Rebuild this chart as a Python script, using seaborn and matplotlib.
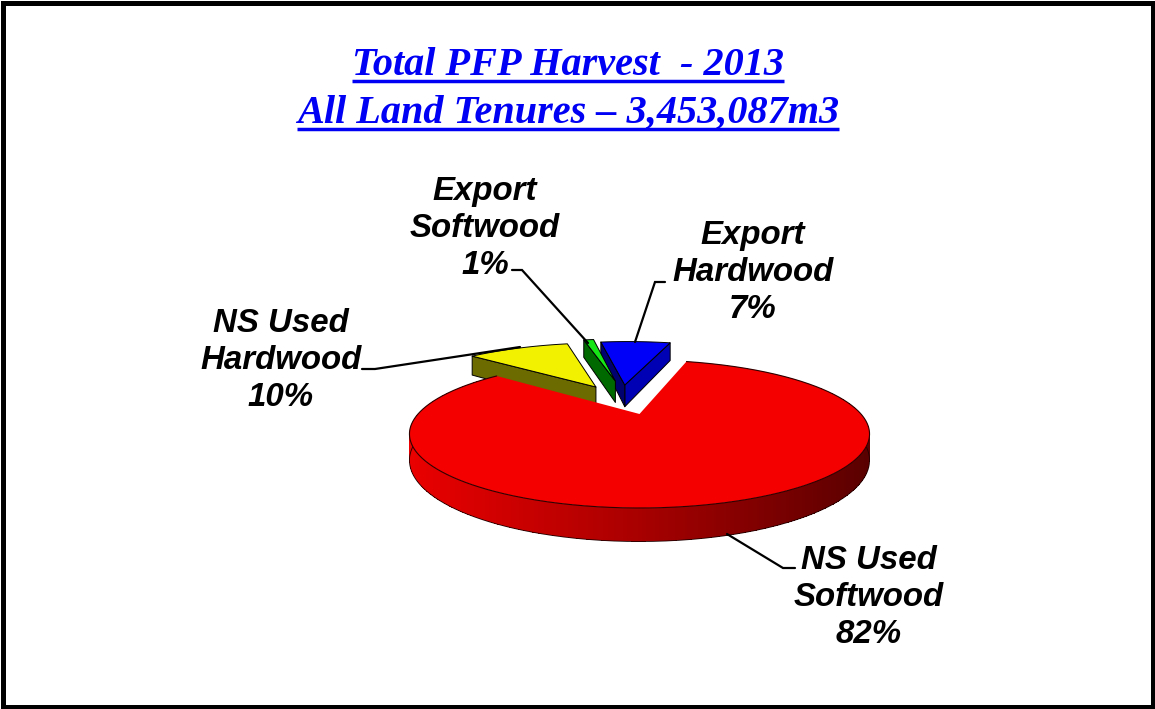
import numpy as np
import matplotlib
matplotlib.use("Agg")
import matplotlib.pyplot as plt
import seaborn as sns
from matplotlib.colors import ListedColormap
from matplotlib.patches import Rectangle

# ---- data ----
categories = ["NS Used\nSoftwood", "NS Used\nHardwood", "Export\nSoftwood", "Export\nHardwood"]
percentages = [82, 10, 1, 7]
title_lines = ["Total PFP Harvest  - 2013", "All Land Tenures \u2013 3,453,087m3"]

# ---- style ----
top_colors = ["#f40000", "#f2f200", "#16e616", "#0000f8"]
start_angle = 74.5
offsets = [(0.0, 0.0), (-0.22, 0.44), (-0.125, 0.55), (-0.075, 0.477)]
CX, CY, A, B, P, DEPTH = 639.5, 414.0, 221.5, 68.6, 0.27, 24.5

sns.set_theme(style="white")
W, H = 1155, 709
fig = plt.figure(figsize=(W / 100, H / 100), dpi=100, facecolor="white")
ax = fig.add_axes([0, 0, 1, 1])
ax.set_xlim(0, W)
ax.set_ylim(H, 0)
ax.axis("off")


def project(u, v, z=0.0):
    """Perspective projection of the unit pie plane to the canvas."""
    u, v = np.asarray(u, float), np.asarray(v, float)
    w = 1 + P * v
    return CX + A * u / w, CY - B * v / w + z * DEPTH / w


def arc(a0, a1, off, z=0.0, n=120):
    t = np.radians(np.linspace(a0, a1, n))
    return project(np.cos(t) + off[0], np.sin(t) + off[1], z)


# wedge angles from the values (clockwise)
fractions = np.array(percentages, float) / sum(percentages)
ends = start_angle - np.cumsum(fractions) * 360
starts = np.r_[start_angle, ends[:-1]]
OUT = dict(edgecolor="black", linewidth=0.7, joinstyle="round")


def side_face(angle, off, color):
    t = np.radians(angle)
    xa, ya = project(off[0], off[1])
    xr, yr = project(np.cos(t) + off[0], np.sin(t) + off[1])
    xa2, ya2 = project(off[0], off[1], 1)
    xr2, yr2 = project(np.cos(t) + off[0], np.sin(t) + off[1], 1)
    ax.fill([xa, xr, xr2, xa2], [ya, yr, yr2, ya2], facecolor=color, **OUT)


def top_face(i):
    x, y = arc(starts[i], ends[i], offsets[i])
    xa, ya = project(*offsets[i])
    ax.fill(np.r_[xa, x], np.r_[ya, y], facecolor=top_colors[i], **OUT)


# exploded slices, far to near
side_face(ends[3], offsets[3], "#0000b4")
side_face(starts[3], offsets[3], "#000070")
top_face(3)
side_face(starts[2], offsets[2], "#006a00")
top_face(2)
side_face(starts[1], offsets[1], "#6b6b00")
top_face(1)

# main slice: rim with shading from left to right, then top
a0, a1 = starts[0], ends[0]
x_top, y_top = arc(a0, a1, offsets[0], 0, 721)
x_bot, y_bot = arc(a0, a1, offsets[0], 1, 721)
shades = ListedColormap(sns.blend_palette(["#ea0000", "#a80000", "#5a0000"], 256))
xm = 0.5 * (x_top[:-1] + x_top[1:])
ax.pcolormesh(np.vstack([x_top, x_bot]), np.vstack([y_top, y_bot]), xm[None, :],
              cmap=shades, shading="flat", zorder=1)
ax.plot(x_bot, y_bot, color="#200000", lw=0.6, zorder=1)
xa, ya = project(*offsets[0])
ax.fill(np.r_[xa, x_top], np.r_[ya, y_top], facecolor=top_colors[0], edgecolor="none", zorder=1)
ax.plot(x_top, y_top, color="#300000", lw=0.8, zorder=1)

# leader lines
leaders = [
    ([795, 783, 727], [568, 568, 534]),
    ([362, 375, 520], [369, 369, 347]),
    ([512, 522, 588], [270, 270, 343]),
    ([665, 655, 635], [282, 282, 342]),
]
for lx, ly in leaders:
    ax.plot(lx, ly, color="black", lw=1.6, solid_joinstyle="miter", zorder=3)

# labels
label_pos = [(869, 597.5), (281, 360.5), (485, 228.5), (753, 272.5)]
for (tx, ty), cat, pct in zip(label_pos, categories, percentages):
    ax.text(tx, ty, f"{cat}\n{pct}%", ha="center", va="center", multialignment="center",
            family="Liberation Sans", weight="bold", style="italic", fontsize=23.8,
            linespacing=1.25, color="black", zorder=4)

# title with underlines
renderer = fig.canvas.get_renderer()
inv = ax.transData.inverted()
for line, base, under in zip(title_lines, [75, 123], [81, 129]):
    t = ax.text(568, base, line, ha="center", va="baseline", family="Liberation Serif",
                weight="bold", style="italic", fontsize=29, color="#0000f5")
    bb = t.get_window_extent(renderer)
    (x0, _), (x1, _) = inv.transform([(bb.x0, bb.y0), (bb.x1, bb.y1)])
    ax.plot([x0, x1], [under, under], color="#0000f5", lw=2.5, solid_capstyle="butt")

# frame
ax.add_patch(Rectangle((2.5, 2.5), W - 5, H - 5, fill=False, edgecolor="black", linewidth=3.6))

fig.savefig("out.png", dpi=100, facecolor="white")
